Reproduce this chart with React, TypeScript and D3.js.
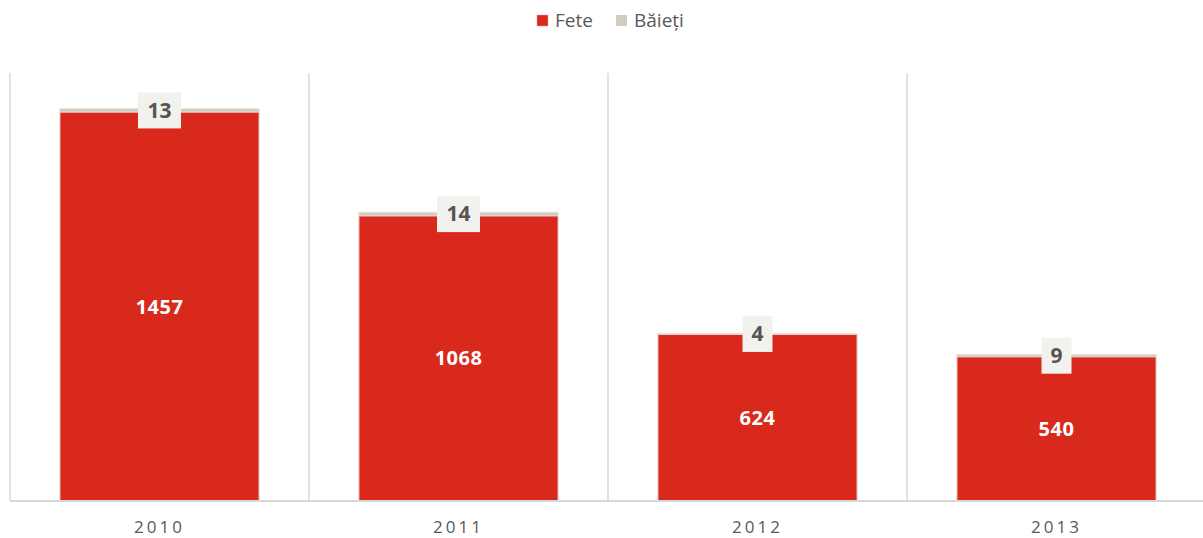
import React from "react";
import * as d3 from "d3";

const years = ["2010", "2011", "2012", "2013"];
const fete = [1457, 1068, 624, 540];
const baieti = [13, 14, 4, 9];
const legendLabels = ["Fete", "Băieți"];

const W = 1203, H = 538;
const FONT = "'Open Sans', 'DejaVu Sans', sans-serif";

export default function App() {
  const x = d3.scaleBand().domain(years).range([10, 1206]).paddingInner(0).paddingOuter(0);
  const y = d3.scaleLinear().domain([0, 1600]).range([501, 74]);
  const bw = x.bandwidth() * 0.666;
  const red = "#d9291c";
  const grey = "#d2cbbf";
  return (
    <svg width={W} height={H} style={{ position: "absolute", left: 0, top: 0, fontFamily: FONT }}>
      {/* legend */}
      <rect x={537} y={15} width={11} height={11} fill={red} stroke="#e8a09a" strokeWidth={0.5} />
      <text x={555} y={27} fontSize={19} fill="#595959">{legendLabels[0]}</text>
      <rect x={616} y={15} width={11} height={11} fill={grey} />
      <text x={634} y={27} fontSize={19} fill="#595959">{legendLabels[1]}</text>
      {/* gridlines */}
      {years.map((yr) => (
        <line key={yr} x1={x(yr)!} x2={x(yr)!} y1={73} y2={501} stroke="#d9d9d9" strokeWidth={1.5} />
      ))}
      {years.map((yr, i) => {
        const cx = x(yr)! + x.bandwidth() / 2;
        const x0 = cx - bw / 2;
        const yF = y(fete[i]);
        const yB = y(fete[i] + baieti[i]);
        const boxW = 17 + 13 * String(baieti[i]).length;
        return (
          <g key={yr}>
            <rect x={x0} y={yB} width={bw} height={yF - yB} fill={grey} stroke="#e4e0da" strokeWidth={1} />
            <rect x={x0} y={yF} width={bw} height={501 - yF} fill={red} stroke="#e6d6d2" strokeWidth={1} />
            <text x={cx} y={(yF + 501) / 2} dy="0.35em" textAnchor="middle" fontSize={20} fontWeight="bold" fill="#ffffff" letterSpacing={0.5}>{fete[i]}</text>
            <rect x={cx - boxW / 2} y={(yB + yF) / 2 - 18} width={boxW} height={36} fill="#f2f1ee" />
            <text x={cx} y={(yB + yF) / 2} dy="0.35em" textAnchor="middle" fontSize={21} fontWeight="bold" fill="#555555">{baieti[i]}</text>
            <text x={cx} y={527} dy="0.35em" textAnchor="middle" fontSize={17} fill="#595959" letterSpacing={3}>{yr}</text>
          </g>
        );
      })}
      <line x1={10} x2={1203} y1={501} y2={501} stroke="#d9d9d9" strokeWidth={2} />
    </svg>
  );
}
